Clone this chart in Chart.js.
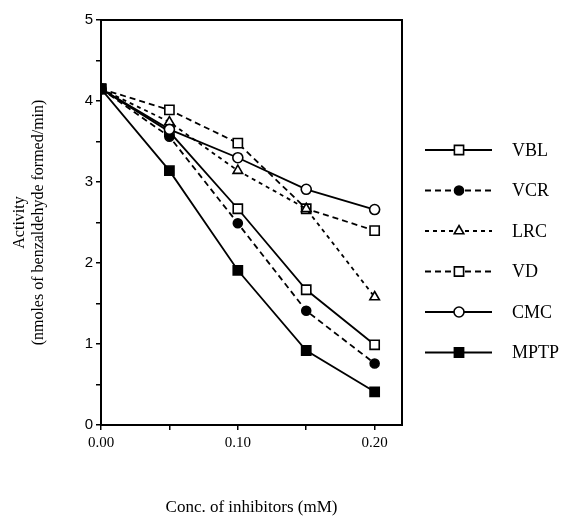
<!DOCTYPE html>
<html>
<head>
<meta charset="utf-8">
<script src="https://cdn.jsdelivr.net/npm/chart.js@4"></script>
<style>
  html, body { margin: 0; padding: 0; background: #fff; }
  #wrap { width: 565px; height: 518px; }
</style>
</head>
<body>
<div id="wrap"><canvas id="activityChart" width="565" height="518"></canvas></div>
<script>
"use strict";

// concentrations of inhibitor (mM)
const concs = [0.00, 0.05, 0.10, 0.15, 0.20];

// activity, nmoles of benzaldehyde formed/min
const vbl  = [4.15, 3.62, 2.67, 1.67, 0.99];
const vcr  = [4.15, 3.56, 2.49, 1.41, 0.76];
const lrc  = [4.15, 3.74, 3.14, 2.67, 1.58];
const vd   = [4.15, 3.89, 3.48, 2.67, 2.40];
const cmc  = [4.15, 3.65, 3.30, 2.91, 2.66];
const mptp = [4.15, 3.14, 1.91, 0.92, 0.41];

const xTicks = [0, 0.05, 0.10, 0.15, 0.20];
const yTicks = [0, 0.5, 1, 1.5, 2, 2.5, 3, 3.5, 4, 4.5, 5];

const serif = "'Liberation Serif', 'Times New Roman', serif";
const sans = "'Liberation Sans', Arial, sans-serif";

function points(vals) {
  return concs.map((c, i) => ({x: c, y: vals[i]}));
}

// order: lower number is drawn on top
function series(label, vals, style, filled, dash, radius, order) {
  return {
    label: label,
    data: points(vals),
    order: order,
    borderColor: '#000',
    borderWidth: 1.8,
    borderDash: dash,
    pointStyle: style,
    pointRadius: radius,
    pointHoverRadius: radius,
    pointBorderWidth: 1.6,
    pointBorderColor: '#000',
    pointBackgroundColor: filled ? '#000' : '#fff',
    tension: 0
  };
}

const datasets = [
  series('VBL', vbl, 'rect', false, [], 6.5, 5),
  series('VCR', vcr, 'circle', true, [6, 4], 4.5, 2),
  series('LRC', lrc, 'triangle', false, [4, 4], 5.5, 3),
  series('VD', vd, 'rect', false, [6, 4], 6.5, 4),
  series('CMC', cmc, 'circle', false, [], 5, 1),
  series('MPTP', mptp, 'rect', true, [], 6.5, 0)
];

// box round the plot area
const frame = {
  id: 'frame',
  afterDraw(chart) {
    const a = chart.chartArea, ctx = chart.ctx;
    ctx.save();
    ctx.strokeStyle = '#000';
    ctx.lineWidth = 2;
    ctx.strokeRect(a.left, a.top, a.right - a.left, a.bottom - a.top);
    ctx.restore();
  }
};

// legend with line + marker, like the figure
const sideLegend = {
  id: 'sideLegend',
  afterDraw(chart) {
    const ctx = chart.ctx;
    const x0 = 425, x1 = 492, xm = 459, xt = 512;
    const top = 150, step = 40.5;
    ctx.save();
    chart.data.datasets.forEach((ds, i) => {
      const y = top + i * step;
      ctx.strokeStyle = '#000';
      ctx.lineWidth = ds.borderWidth;
      ctx.setLineDash(ds.borderDash);
      ctx.beginPath();
      ctx.moveTo(x0, y);
      ctx.lineTo(x1, y);
      ctx.stroke();
      ctx.setLineDash([]);
      ctx.fillStyle = ds.pointBackgroundColor;
      ctx.strokeStyle = '#000';
      ctx.lineWidth = ds.pointBorderWidth;
      Chart.helpers.drawPoint(ctx, {
        pointStyle: ds.pointStyle,
        radius: ds.pointRadius,
        rotation: 0,
        borderWidth: ds.pointBorderWidth
      }, xm, y);
      ctx.fillStyle = '#000';
      ctx.font = '18px ' + serif;
      ctx.textBaseline = 'middle';
      ctx.fillText(ds.label, xt, y + 1);
    });
    ctx.restore();
  }
};

new Chart('activityChart', {
  type: 'line',
  data: { datasets: datasets },
  plugins: [frame, sideLegend],
  options: {
    responsive: false,
    animation: false,
    events: [],
    layout: { padding: { left: 11, right: 163, top: 20, bottom: 0 } },
    plugins: { legend: { display: false }, tooltip: { enabled: false } },
    scales: {
      x: {
        type: 'linear',
        min: 0,
        max: 0.22,
        afterBuildTicks: (scale) => { scale.ticks = xTicks.map(v => ({value: v})); },
        afterFit: (scale) => { scale.height = 93; },
        ticks: {
          color: '#000',
          font: { family: serif, size: 15 },
          padding: 4,
          maxRotation: 0,
          autoSkip: false,
          callback: (v) => (Math.round(v * 100) % 10 === 0 ? v.toFixed(2) : '')
        },
        grid: { display: true, drawOnChartArea: false, drawTicks: true, tickLength: 5, color: '#000', lineWidth: 1.5 },
        border: { display: true, color: '#000', width: 2 },
        title: {
          display: true,
          text: 'Conc. of inhibitors (mM)',
          color: '#000',
          font: { family: serif, size: 17 },
          padding: { top: 0, bottom: 0 }
        }
      },
      y: {
        type: 'linear',
        min: 0,
        max: 5,
        afterBuildTicks: (scale) => { scale.ticks = yTicks.map(v => ({value: v})); },
        afterFit: (scale) => { scale.width = 90; },
        ticks: {
          color: '#000',
          font: { family: sans, size: 15 },
          padding: 3,
          autoSkip: false,
          callback: (v) => (Number.isInteger(v) ? String(v) : '')
        },
        grid: { display: true, drawOnChartArea: false, drawTicks: true, tickLength: 5, color: '#000', lineWidth: 1.5 },
        border: { display: true, color: '#000', width: 2 },
        title: {
          display: true,
          text: ['Activity', '(nmoles of benzaldehyde formed/min)'],
          color: '#000',
          font: { family: serif, size: 16, lineHeight: 1.15 },
          padding: { top: 0, bottom: 0 }
        }
      }
    }
  }
});
</script>
</body>
</html>
